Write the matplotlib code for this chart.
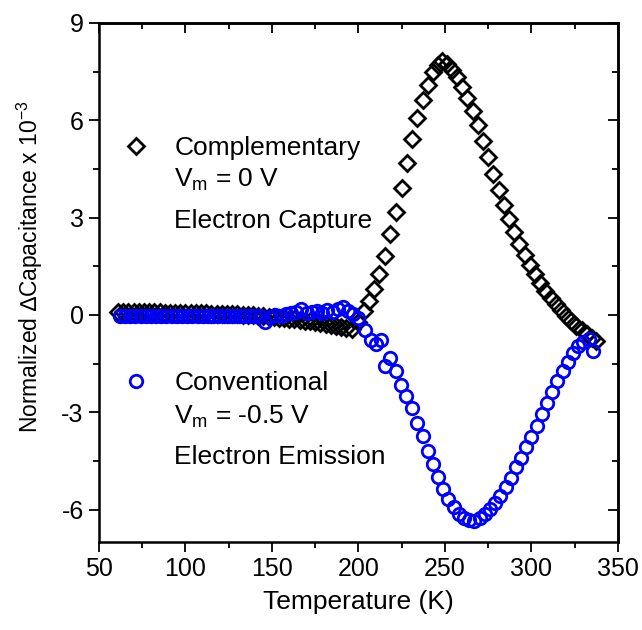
import matplotlib
matplotlib.use("Agg")
import matplotlib.pyplot as plt
from matplotlib.ticker import MultipleLocator

plt.rcParams["font.family"] = ["Liberation Sans", "DejaVu Sans"]
plt.rcParams["mathtext.fontset"] = "custom"
plt.rcParams["mathtext.rm"] = "Liberation Sans"
plt.rcParams["mathtext.it"] = "Liberation Sans"
plt.rcParams["axes.unicode_minus"] = False

# complementary scan (Vm = 0 V), capture signal
temp_comp = [61, 64, 67, 70, 73, 76, 79, 82, 85, 88, 91, 94, 97, 100, 103, 106,
             109, 112, 115, 118, 121, 124, 127, 130, 133, 136, 139, 142, 145, 148,
             151, 154, 157, 160, 163, 166, 169, 172, 175, 178, 181, 184, 187, 190,
             193, 196, 200, 203, 206, 209, 212, 215.5, 218.5, 221.5, 225, 228, 231,
             234, 237, 240, 243, 246, 248.5, 251, 254, 257, 260, 263, 266, 269, 272,
             275, 278, 281, 284, 287, 290, 293, 296, 299, 302, 305, 308, 311, 314,
             317, 320, 323, 326, 329, 332, 335, 337.5]
dcap_comp = [0.10, 0.10, 0.10, 0.09, 0.09, 0.09, 0.08, 0.08, 0.08, 0.07, 0.07, 0.07,
             0.06, 0.06, 0.06, 0.05, 0.05, 0.05, 0.04, 0.04, 0.03, 0.03, 0.02, 0.02,
             0.01, 0.00, -0.01, -0.02, -0.03, -0.05, -0.06, -0.08, -0.10, -0.12,
             -0.14, -0.16, -0.18, -0.20, -0.22, -0.25, -0.28, -0.31, -0.34, -0.37,
             -0.40, -0.43, -0.22, 0.12, 0.42, 0.80, 1.25, 1.82, 2.48, 3.18, 3.92,
             4.68, 5.42, 6.08, 6.62, 7.08, 7.48, 7.70, 7.82, 7.74, 7.55, 7.32, 7.02,
             6.68, 6.30, 5.84, 5.36, 4.86, 4.36, 3.86, 3.40, 2.97, 2.56, 2.20, 1.86,
             1.53, 1.25, 0.98, 0.74, 0.53, 0.33, 0.14, -0.03, -0.19, -0.34, -0.48,
             -0.60, -0.70, -0.80]

# conventional scan (Vm = -0.5 V), emission signal
temp_conv = [62, 65, 68, 71, 74, 77, 80, 83, 86, 89, 92, 95, 98, 101, 104, 107,
             110, 113, 116, 119, 122, 125, 128, 131, 134, 137, 140, 143, 146, 149,
             152, 155, 158, 161, 164, 167, 170, 173, 176, 179, 182, 185, 188, 191,
             194, 197, 200, 203.5, 207, 210, 213, 215.5, 218.5, 221.5, 224.5, 227.5,
             231, 234, 237, 240, 243, 246, 249, 252, 255, 258, 261, 264, 267, 270,
             273, 276, 279, 282, 285, 288, 291, 294, 297, 300, 303, 306, 309, 312,
             315, 318, 321, 324, 327, 330, 333, 335.5]
dcap_conv = [-0.02, -0.02, -0.02, -0.02, -0.02, -0.02, -0.02, -0.02, -0.02, -0.02,
             -0.02, -0.02, -0.02, -0.02, -0.02, -0.02, -0.02, -0.02, -0.02, -0.02,
             -0.02, -0.02, -0.02, -0.02, -0.02, -0.02, -0.03, -0.03, -0.22, -0.05,
             0.00, -0.04, 0.02, 0.05, 0.08, 0.18, 0.05, 0.08, 0.12, 0.05, 0.15, 0.10,
             0.18, 0.25, 0.12, 0.02, -0.08, -0.45, -0.78, -0.90, -0.78, -1.58, -1.32,
             -1.74, -2.15, -2.50, -2.86, -3.32, -3.73, -4.19, -4.60, -5.01, -5.37,
             -5.67, -5.93, -6.13, -6.25, -6.33, -6.35, -6.27, -6.14, -5.98, -5.79,
             -5.58, -5.32, -5.02, -4.70, -4.40, -4.08, -3.76, -3.42, -3.06, -2.71,
             -2.38, -2.05, -1.74, -1.44, -1.18, -0.97, -0.83, -0.73, -1.12]

FS_TICK = 18
FS_TEXT = 19
BLUE = "#0000ff"

fig = plt.figure(figsize=(6.42, 6.30), dpi=100)
ax = fig.add_axes([0.1542, 0.1397, 0.8084, 0.8238])

comp, = ax.plot(temp_comp, dcap_comp, ls="none", marker="D", ms=8.2,
                mfc="none", mec="black", mew=2.0)
conv, = ax.plot(temp_conv, dcap_conv, ls="none", marker="o", ms=9.0,
                mfc="none", mec=BLUE, mew=2.0)

ax.set_xlim(50, 350)
ax.set_ylim(-7, 9)
ax.xaxis.set_major_locator(MultipleLocator(50))
ax.xaxis.set_minor_locator(MultipleLocator(25))
ax.yaxis.set_major_locator(MultipleLocator(3))
ax.yaxis.set_minor_locator(MultipleLocator(1.5))

for s in ax.spines.values():
    s.set_linewidth(1.8)
ax.tick_params(which="major", direction="out", length=7, width=1.3,
               labelsize=FS_TICK, pad=4)
ax.tick_params(which="minor", direction="out", length=4, width=1.3)

# mirrored ticks on top and right, pointing inwards
top = ax.secondary_xaxis("top")
top.xaxis.set_major_locator(MultipleLocator(50))
top.xaxis.set_minor_locator(MultipleLocator(25))
top.tick_params(which="major", direction="in", length=7, width=1.3, labeltop=False)
top.tick_params(which="minor", direction="in", length=4, width=1.3)
right = ax.secondary_yaxis("right")
right.yaxis.set_major_locator(MultipleLocator(3))
right.yaxis.set_minor_locator(MultipleLocator(1.5))
right.tick_params(which="major", direction="in", length=7, width=1.3, labelright=False)
right.tick_params(which="minor", direction="in", length=4, width=1.3)
for sec in (top, right):
    for s in sec.spines.values():
        s.set_linewidth(1.8)

ax.set_xlabel("Temperature (K)", fontsize=FS_TEXT)
ax.xaxis.set_label_coords(0.5, -0.092)
ax.set_ylabel("Normalized \u2206Capacitance x 10$^{-3}$", fontsize=16.5)
ax.yaxis.set_label_coords(-0.105, 0.53)

# keys: marker + first line from the legend, remaining lines as text
leg1 = ax.legend([comp], ["Complementary"], loc="center left",
                 bbox_to_anchor=(0.045, 0.759), frameon=False, fontsize=FS_TEXT,
                 borderpad=0, borderaxespad=0, handlelength=1.0,
                 handletextpad=0.97, numpoints=1)
ax.add_artist(leg1)
ax.text(0.145, 0.697, "V$_\\mathregular{m}$ = 0 V", transform=ax.transAxes,
        fontsize=FS_TEXT, va="center", ha="left")
ax.text(0.145, 0.618, "Electron Capture", transform=ax.transAxes,
        fontsize=FS_TEXT, va="center", ha="left")

ax.legend([conv], ["Conventional"], loc="center left",
          bbox_to_anchor=(0.045, 0.306), frameon=False, fontsize=FS_TEXT,
          borderpad=0, borderaxespad=0, handlelength=1.0,
          handletextpad=0.97, numpoints=1)
ax.text(0.145, 0.241, "V$_\\mathregular{m}$ = -0.5 V", transform=ax.transAxes,
        fontsize=FS_TEXT, va="center", ha="left")
ax.text(0.145, 0.164, "Electron Emission", transform=ax.transAxes,
        fontsize=FS_TEXT, va="center", ha="left")

fig.savefig("out.png", dpi=100)
